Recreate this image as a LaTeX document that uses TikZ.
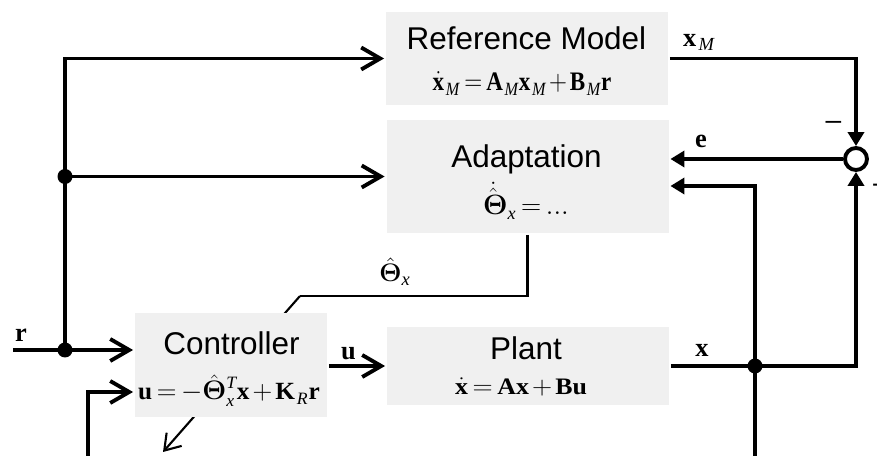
\documentclass[tikz,border=0pt]{standalone}
\usepackage{amsmath}
\usepackage{bm}
\usepackage{graphicx}
\usepackage{fontspec}
\setmainfont{Liberation Sans}
\setmathrm{Liberation Serif}
\usepackage{xcolor}
\usetikzlibrary{arrows.meta, positioning}

\definecolor{boxgray}{RGB}{240,240,240}
\newcommand{\sM}{{\mkern2mu\mathit{M}}}

\tikzset{
  blk/.style={fill=boxgray, inner sep=0pt},
  ttl/.style={anchor=base, font=\fontsize{17.9}{20}\selectfont},
  eqn/.style={anchor=base, font=\fontsize{16}{18}\selectfont,
    execute at begin node={\thickmuskip=3mu\medmuskip=2mu}},
  sig/.style={anchor=base, font=\fontsize{15}{17}\selectfont},
  pm/.style={font=\fontsize{16}{18}\selectfont},
  jdot/.style={circle, fill, inner sep=0pt, minimum size=0.3cm},
  sumj/.style={circle, draw, fill=white, inner sep=0pt, minimum size=0.44cm},
  fwd/.style={-{Straight Barb[length=0.38cm, width=0.44cm]}},
  fb/.style={-{Triangle[length=0.28cm, width=0.32cm]}},
}

\begin{document}
\begin{tikzpicture}[line width=2.2pt]
    \useasboundingbox (0,0) rectangle (17.54,9.12);

    % adjustment path, drawn first so the controller box covers it
    \coordinate (tk) at (6.0,3.2);
    \coordinate (tip) at (3.26,0.08);

    % blocks
    \node[blk, minimum width=5.64cm, minimum height=1.86cm] (ref) at (10.54,7.95) {};
    \node[blk, minimum width=5.64cm, minimum height=2.26cm] (adapt) at (10.55,5.59) {};
    \node[blk, minimum width=5.64cm, minimum height=1.56cm] (plant) at (10.56,1.8) {};

    \node[ttl] at (10.53,8.12) {Reference Model};
    \node[eqn] at (10.44,7.30) {\scalebox{0.82}[0.95]{$\dot{\mathbf{x}}_\sM = \mathbf{A}_\sM\mathbf{x}_\sM + \mathbf{B}_\sM\mathbf{r}$}};
    \node[ttl] at (10.53,5.76) {Adaptation};
    \node[eqn] at (10.52,4.82) {\scalebox{0.92}[0.92]{$\dot{\hat{\bm{\Theta}}}_{\mathit{x}} = \mathrm{...}$}};
    \node[ttl] at (10.52,1.92) {Plant};
    \node[eqn] at (10.42,1.22) {\scalebox{0.92}[0.84]{$\dot{\mathbf{x}} = \mathbf{A}\mathbf{x} + \mathbf{B}\mathbf{u}$}};

    \draw[line width=1.7pt] (adapt.south) |- (tk);
    \draw[line width=1.2pt, -{Straight Barb[length=0.3cm, width=0.4cm]}] (tk) -- (tip);

    \node[blk, minimum width=3.84cm, minimum height=2.08cm] (ctrl) at (4.62,1.82) {};
    \node[ttl] at (4.63,2.02) {Controller};
    \node[eqn] at (4.58,1.12) {\scalebox{0.9}[0.88]{$\mathbf{u} = -\hat{\bm{\Theta}}{\vphantom{\bm{\Theta}}}^{\mathit{T}}_{\mathit{x}}\mathbf{x} + \mathbf{K}_{\mkern2mu\mathit{R}}\mathbf{r}$}};

    % junctions
    \node[jdot] (jr) at (1.3,2.12) {};
    \node[jdot] (ja) at (1.3,5.59) {};
    \node[jdot] (jx) at (15.1,1.8) {};
    \node[sumj] (sum) at (17.12,5.94) {};

    \coordinate (rin) at (0.26,2.12);
    \coordinate (fbl) at (1.76,0);
    \coordinate (fbr) at (15.1,0);

    % reference signal
    \draw[fwd] (rin) -- (rin -| ctrl.west);
    \draw[fwd] (jr.center) |- (ref.west);
    \draw[fwd] (ja.center) -- (adapt.west);

    % control and state
    \draw[fwd] (ctrl.east |- plant.west) -- (plant.west);
    \draw[fb] (plant.east) -| (sum.south);
    \draw[fb] (jx.center) |- ([yshift=-0.19cm]adapt.east);
    \draw (jx.center) -- (fbr);
    \draw[fwd] (fbl) |- ([yshift=-0.54cm]ctrl.west);

    % tracking error
    \draw[fb] (ref.east) -| (sum.north);
    \draw[fb] (sum.west) -- (sum.west -| adapt.east);

    % signal labels
    \node[sig] at (0.42,2.28) {$\mathbf{r}$};
    \node[sig] at (6.97,1.92) {$\mathbf{u}$};
    \node[sig] at (14.04,1.98) {$\mathbf{x}$};
    \node[sig] at (14.02,6.16) {$\mathbf{e}$};
    \node[sig] at (13.98,8.18) {$\mathbf{x}_\sM$};
    \node[sig] at (7.9,3.48) {$\hat{\bm{\Theta}}_{\mathit{x}}$};
    \node[pm] at (16.67,6.62) {–};
    \node[pm] at (17.6,5.40) {+};
\end{tikzpicture}
\end{document}
